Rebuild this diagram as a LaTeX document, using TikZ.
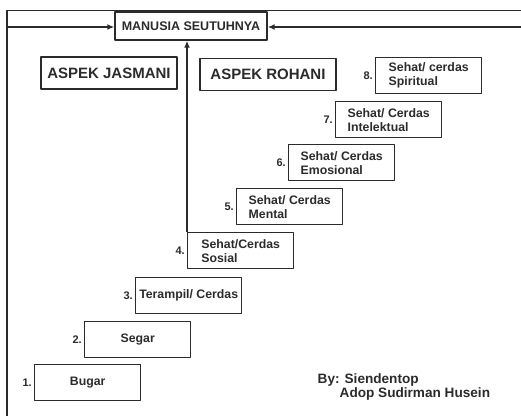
\documentclass[tikz,border=0pt]{standalone}
\usepackage{fontspec}
\setmainfont{Liberation Sans}
\usetikzlibrary{arrows.meta}
\definecolor{garis}{HTML}{2B2B2B}
\begin{document}
\begin{tikzpicture}[x=1pt, y=-1pt, line width=1.4pt, color=garis, line join=round, >={Latex[length=7pt,width=6pt]},
		tangga/.style={draw, minimum width=106pt, minimum height=36pt, inner xsep=2pt, inner ysep=1pt, align=left, anchor=north west, font=\bfseries\fontsize{12.3}{14}\selectfont},
		nomor/.style={inner sep=1.5pt, font=\bfseries\fontsize{11}{13}\selectfont},
		aspek/.style={draw, minimum width=136pt, minimum height=32pt, font=\bfseries\fontsize{15}{18}\selectfont}]
		\useasboundingbox (0,0) rectangle (521,416);
		% bingkai
		\coordinate (kiriatas) at (7,10.5);
		\coordinate (kananatas) at (521,10.5);
		\coordinate (kiribawah) at (7,416);
		\coordinate (kiri) at (7,27);
		\coordinate (kanan) at (521,27);
		\draw (kananatas)--(kiriatas)--(kiribawah);
		\node[draw, minimum width=152pt, minimum height=28pt, inner sep=0pt, font=\bfseries\fontsize{12.5}{14}\selectfont] (manusia) at (191,26) {MANUSIA SEUTUHNYA};
		\draw[->] (kiri)--(kiri -| manusia.west);
		\draw[->] (kanan)--(kanan -| manusia.east);
		\node[aspek] (jasmani) at (109,73) {ASPEK JASMANI};
		\node[aspek] (rohani) at (268,74.5) {ASPEK ROHANI};
		% tangga
		\foreach \n/\x/\y/\teks in {1/34/364/Bugar,2/84/321/Segar,3/135/277/{Terampil/ Cerdas},4/187/232/{Sehat/Cerdas\\Sosial},5/236/188/{Sehat/ Cerdas\\Mental},6/288/144/{Sehat/ Cerdas\\Emosional},7/335/101/{Sehat/ Cerdas\\Intelektual},8/375/57/{Sehat/ cerdas\\Spiritual}}
		\node[tangga, label={[nomor]left:\n.}] (b\n) at (\x,\y) {\teks};
		\draw[->] (b4.north west)--(b4.north west |- manusia.south);
		\node[anchor=west, align=left, inner sep=0pt, font=\bfseries\fontsize{13.6}{14}\selectfont] (oleh) at (317,387) {By: Siendentop\\\hspace*{22pt}Adop Sudirman Husein};
	\end{tikzpicture}
\end{document}
